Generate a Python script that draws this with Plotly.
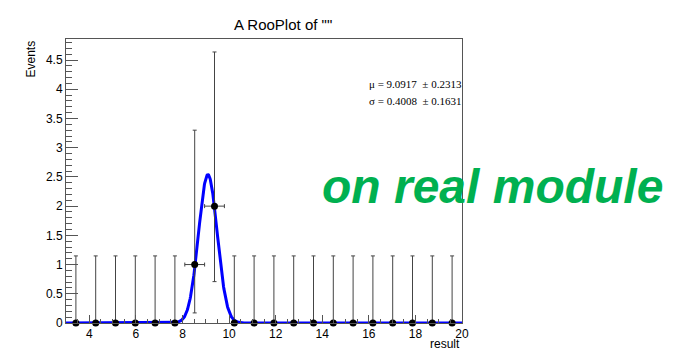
import numpy as np
import plotly.graph_objects as go

# Binned data: 20 bins over [3, 20]
bin_lo = 3.0
bin_hi = 20.0
n_bins = 20
counts = [0, 0, 0, 0, 0, 0, 1, 2, 0, 0, 0, 0, 0, 0, 0, 0, 0, 0, 0, 0]

# Poisson (68% CL) asymmetric errors per count value
err_low_by_n = {0: 0.0, 1: 0.8273, 2: 1.2918}
err_high_by_n = {0: 1.1479, 1: 2.2996, 2: 2.6378}

# Gaussian fit results
mu, mu_err = 9.0917, 0.2313
sigma, sigma_err = 0.4008, 0.1631

width = (bin_hi - bin_lo) / n_bins
centers = [bin_lo + (i + 0.5) * width for i in range(n_bins)]
err_lo = [err_low_by_n[c] for c in counts]
err_hi = [err_high_by_n[c] for c in counts]
err_x = [width / 2 if c > 0 else 0 for c in counts]

# Fitted pdf, normalised to the number of events per bin
x_curve = np.linspace(bin_lo, bin_hi, 1200)
norm = sum(counts) * width / (sigma * np.sqrt(2 * np.pi))
y_curve = norm * np.exp(-0.5 * ((x_curve - mu) / sigma) ** 2)

fig = go.Figure()

fig.add_trace(go.Scatter(
    x=x_curve, y=y_curve, mode="lines",
    line=dict(color="#0000ff", width=3),
    cliponaxis=False,
    showlegend=False, hoverinfo="skip",
))

fig.add_trace(go.Scatter(
    x=centers, y=counts, mode="markers",
    marker=dict(color="black", size=7),
    error_y=dict(type="data", symmetric=False, array=err_hi, arrayminus=err_lo,
                 color="#444444", thickness=1, width=2),
    error_x=dict(type="data", array=err_x, color="#444444",
                 thickness=1, width=2),
    cliponaxis=False,
    showlegend=False, hoverinfo="skip",
))

axis_font = dict(family="Liberation Sans, Arial, sans-serif", size=12, color="black")

fig.update_layout(
    width=687, height=350,
    margin=dict(l=66, r=225, t=39, b=27),
    paper_bgcolor="white", plot_bgcolor="white",
    showlegend=False,
    xaxis=dict(
        range=[bin_lo, bin_hi], tick0=0, dtick=2, automargin=False,
        ticks="inside", ticklen=8, tickcolor="#555555", tickwidth=1,
        minor=dict(ticks="inside", ticklen=4, dtick=0.5, tickcolor="#555555"),
        showgrid=False, zeroline=False,
        showline=True, linecolor="#555555", linewidth=1, mirror=True,
        tickfont=axis_font,
    ),
    yaxis=dict(
        range=[0, 4.86], tick0=0, dtick=0.5, automargin=False,
        ticks="inside", ticklen=12, tickcolor="#555555", tickwidth=1,
        minor=dict(ticks="inside", ticklen=6, dtick=0.1, tickcolor="#555555"),
        showgrid=False, zeroline=False,
        showline=True, linecolor="#555555", linewidth=1, mirror=True,
        tickfont=axis_font,
    ),
)

serif = dict(family="Liberation Serif, Times New Roman, serif", size=11, color="black")
sans = dict(family="Liberation Sans, Arial, sans-serif", size=12, color="black")

annotations = [
    dict(text='A RooPlot of ""', x=283, y=14, showarrow=False, font=dict(sans, size=15)),
    dict(text="Events", x=30, y=39, showarrow=False, textangle=-90,
         xanchor="center", yanchor="top", font=sans),
    dict(text="result", x=462, y=344, showarrow=False, xanchor="right", yanchor="middle",
         font=sans),
    dict(text="\u03bc = %.4f  \u00b1 %.4f" % (mu, mu_err), x=367, y=84, showarrow=False,
         xanchor="left", yanchor="middle", font=serif),
    dict(text="\u03c3 = %.4f  \u00b1 %.4f" % (sigma, sigma_err), x=367, y=101, showarrow=False,
         xanchor="left", yanchor="middle", font=serif),
    dict(text="<b><i>on real module</i></b>", x=492, y=186, showarrow=False,
         xanchor="center", yanchor="middle",
         font=dict(family="Liberation Sans, Arial, sans-serif", size=48, color="#00b050")),
]

# Place annotations in pixel terms relative to the whole canvas
x0, x1 = 66, 462
y0, y1 = 39, 323
for a in annotations:
    px, py = a.pop("x"), a.pop("y")
    a["xref"] = "paper"
    a["yref"] = "paper"
    a["x"] = (px - x0) / (x1 - x0)
    a["y"] = (y1 - py) / (y1 - y0)
    fig.add_annotation(**a)

fig.write_html("out.html")
